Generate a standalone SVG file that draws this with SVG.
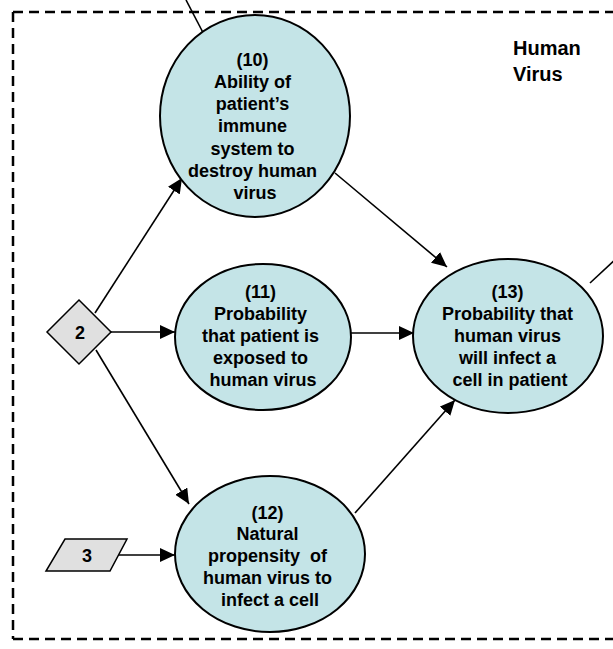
<svg xmlns="http://www.w3.org/2000/svg" width="613" height="649" viewBox="0 0 613 649">
  <defs>
    <marker id="arrow" markerUnits="userSpaceOnUse" markerWidth="15" markerHeight="14" refX="15" refY="7" orient="auto">
      <path d="M0,0 L15,7 L0,14 z" fill="#000"/>
    </marker>
    <style>
      .node ellipse { fill: #C4E4E7; stroke: #000; stroke-width: 2; }
      .input polygon { fill: #E0E0E0; stroke: #000; stroke-width: 1.5; }
      .label { font-family: "Liberation Sans", Arial, sans-serif; font-weight: bold; font-size: 18px; text-anchor: middle; fill: #000; }
      .title { font-family: "Liberation Sans", Arial, sans-serif; font-weight: bold; font-size: 20px; fill: #000; }
      .edge { stroke: #000; stroke-width: 1.6; fill: none; marker-end: url(#arrow); }
      .plain { stroke: #000; stroke-width: 1.6; fill: none; }
      .frame { stroke: #000; stroke-width: 2.5; stroke-dasharray: 10 6; fill: none; }
    </style>
  </defs>

  <rect width="613" height="649" fill="#fff"/>

  <!-- dashed boundary of the human virus section -->
  <g id="frame">
    <line class="frame" x1="13" y1="12" x2="613" y2="12"/>
    <line class="frame" x1="13" y1="12" x2="13" y2="639"/>
    <line class="frame" x1="13" y1="639" x2="613" y2="639"/>
    <text class="title" x="513" y="55">Human</text>
    <text class="title" x="513" y="81">Virus</text>
  </g>

  <!-- connectors -->
  <g id="connectors">
    <line class="edge" x1="186" y1="0" x2="210" y2="46"/>
    <line class="edge" x1="95" y1="313" x2="182" y2="178"/>
    <line class="edge" x1="111" y1="332" x2="175" y2="332"/>
    <line class="edge" x1="96" y1="350" x2="189" y2="504"/>
    <line class="edge" x1="112" y1="555" x2="175" y2="555"/>
    <line class="edge" x1="335" y1="173" x2="447" y2="267"/>
    <line class="edge" x1="351" y1="333" x2="414" y2="333"/>
    <line class="edge" x1="355" y1="513" x2="455" y2="400"/>
    <line class="plain" x1="590" y1="283" x2="620" y2="255"/>
  </g>

  <g id="node10" class="node">
    <ellipse cx="255" cy="116" rx="95" ry="101"/>
    <text class="label">
      <tspan x="255" y="66">(10)</tspan>
      <tspan x="255" y="88">Ability of</tspan>
      <tspan x="255" y="110">patient’s</tspan>
      <tspan x="255" y="132">immune</tspan>
      <tspan x="255" y="155">system to</tspan>
      <tspan x="255" y="177">destroy human</tspan>
      <tspan x="255" y="199">virus</tspan>
    </text>
  </g>

  <g id="node11" class="node">
    <ellipse cx="263" cy="337" rx="88" ry="73"/>
    <text class="label">
      <tspan x="263" y="298">(11)</tspan>
      <tspan x="263" y="320">Probability</tspan>
      <tspan x="263" y="342">that patient is</tspan>
      <tspan x="263" y="364">exposed to</tspan>
      <tspan x="263" y="386">human virus</tspan>
    </text>
  </g>

  <g id="node12" class="node">
    <ellipse cx="270" cy="554" rx="95" ry="78"/>
    <text class="label">
      <tspan x="270" y="519">(12)</tspan>
      <tspan x="270" y="540">Natural</tspan>
      <tspan x="270" y="562" xml:space="preserve">propensity  of</tspan>
      <tspan x="270" y="584">human virus to</tspan>
      <tspan x="270" y="606">infect a cell</tspan>
    </text>
  </g>

  <g id="node13" class="node">
    <ellipse cx="508" cy="336" rx="95" ry="77"/>
    <text class="label">
      <tspan x="510" y="298">(13)</tspan>
      <tspan x="510" y="320">Probability that</tspan>
      <tspan x="510" y="342">human virus</tspan>
      <tspan x="510" y="364">will infect a</tspan>
      <tspan x="510" y="386">cell in patient</tspan>
    </text>
  </g>

  <g id="node2" class="input">
    <polygon points="79,300 111,332 79,364 47,332"/>
    <text class="label" x="80" y="339">2</text>
  </g>

  <g id="node3" class="input">
    <polygon points="65,539 127,539 110,571 46,571"/>
    <text class="label" x="87" y="562">3</text>
  </g>
</svg>
